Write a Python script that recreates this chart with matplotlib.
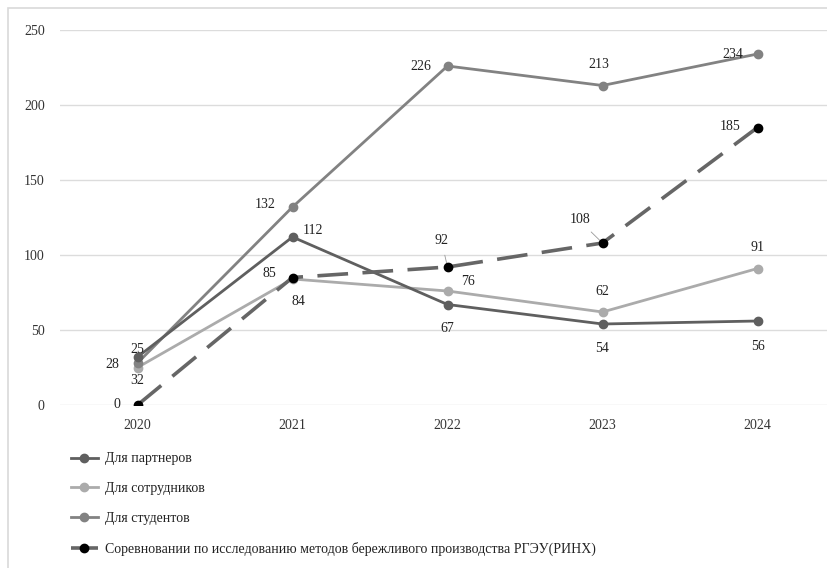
import matplotlib.pyplot as plt
from matplotlib.lines import Line2D
from matplotlib.patches import Rectangle

plt.rcParams['font.family'] = ['Liberation Serif', 'DejaVu Serif']

years = ['2020', '2021', '2022', '2023', '2024']
partners = [32, 112, 67, 54, 56]
employees = [25, 84, 76, 62, 91]
students = [28, 132, 226, 213, 234]
competition = [0, 85, 92, 108, 185]

names = ['Для партнеров', 'Для сотрудников', 'Для студентов',
         'Соревновании по исследованию методов бережливого производства РГЭУ(РИНХ)']

# label offsets in points (dx, dy) for every point of each series
off_partners = [(0, -17), (15, 5), (0, -17), (0, -18), (0, -18)]
off_employees = [(0, 13), (4, -16), (15, 7), (0, 15), (0, 15)]
off_students = [(-18, -1), (-20, 2), (-19, 0), (-3, 15), (-18, 0)]
off_competition = [(-15, 0), (-17, 3), (-4, 19), (-16, 17), (-20, 1)]

fig = plt.figure(figsize=(8.28, 5.68), dpi=100)
fig.patches.append(Rectangle((8 / 828, -0.1), 1.2, 560 / 568 + 0.1,
                             transform=fig.transFigure, fill=False,
                             edgecolor='#d9d9d9', linewidth=1.2))
ax = fig.add_axes([60 / 828, (568 - 405) / 568, 775 / 828, 375 / 568])

x = list(range(len(years)))
ax.plot(x, partners, color='#5f5f5f', lw=2.0, marker='o', ms=6, zorder=4)
ax.plot(x, employees, color='#ababab', lw=2.0, marker='o', ms=6, zorder=3)
ax.plot(x, students, color='#828282', lw=2.0, marker='o', ms=6, zorder=3)
ax.plot(x, competition, color='#666666', lw=2.6, dashes=(8.5, 4), zorder=5)
ax.plot(x, competition, color='black', lw=0, marker='o', ms=6, zorder=6)

def put_labels(vals, offs):
    for xi, v, (dx, dy) in zip(x, vals, offs):
        ax.annotate(str(v), (xi, v), xytext=(dx, dy), textcoords='offset points',
                    ha='center', va='center', fontsize=10, color='#222222', zorder=7)

put_labels(partners, off_partners)
put_labels(employees, off_employees)
put_labels(students, off_students)
put_labels(competition, off_competition)

# thin leader lines for the shifted labels
for i in (2, 3):
    dx, dy = off_competition[i]
    ax.annotate('', (x[i], competition[i]), xytext=(dx * 0.6, dy * 0.55),
                textcoords='offset points',
                arrowprops=dict(arrowstyle='-', color='#999999', lw=0.6))

ax.set_xlim(-0.5, 4.5)
ax.set_ylim(0, 250)
ax.set_yticks([0, 50, 100, 150, 200, 250])
ax.set_xticks(x)
ax.set_xticklabels(years)
ax.tick_params(length=0, labelsize=10, colors='#333333')
ax.tick_params(axis='y', pad=11)
ax.tick_params(axis='x', pad=10)
ax.grid(axis='y', color='#dcdcdc', lw=1)
for s in ax.spines.values():
    s.set_visible(False)

handles = [
    Line2D([], [], color='#5f5f5f', lw=2.0, marker='o', ms=6),
    Line2D([], [], color='#ababab', lw=2.0, marker='o', ms=6),
    Line2D([], [], color='#828282', lw=2.0, marker='o', ms=6),
    Line2D([], [], color='#666666', lw=2.6, dashes=(8.5, 4), marker='o', ms=6,
           markerfacecolor='black', markeredgecolor='black'),
]
fig.legend(handles, names, loc='upper left', bbox_to_anchor=(58 / 828, 1 - 440 / 568),
           frameon=False, fontsize=10, handlelength=2.0, handletextpad=0.5,
           labelspacing=1.2, labelcolor='#222222')

fig.savefig('out.png', dpi=100)
